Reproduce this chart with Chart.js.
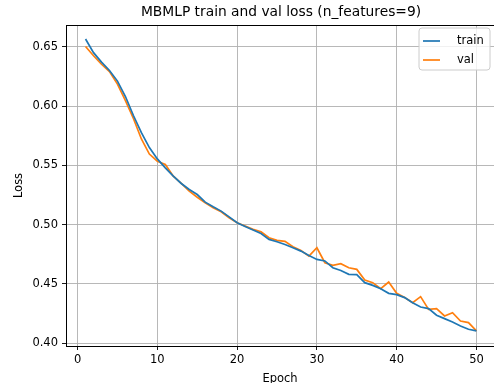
<!DOCTYPE html>
<html>
<head>
<meta charset="utf-8">
<script src="https://cdn.jsdelivr.net/npm/chart.js@4/dist/chart.umd.min.js"></script>
<style>
  html, body { margin: 0; padding: 0; background: #fff; }
  #wrap { width: 494px; height: 383px; }
</style>
</head>
<body>
<div id="wrap"><canvas id="c" width="494" height="383"></canvas></div>
<script>
const epochs = Array.from({ length: 50 }, (_, i) => i + 1);

const trainLoss = [
  0.6565, 0.6450, 0.6370, 0.6300, 0.6210, 0.6080, 0.5920, 0.5775, 0.5650, 0.5554,
  0.5479, 0.5409, 0.5347, 0.5296, 0.5254, 0.5190, 0.5150, 0.5114, 0.5066, 0.5016,
  0.4985, 0.4955, 0.4925, 0.4876, 0.4856, 0.4833, 0.4805, 0.4777, 0.4740, 0.4707,
  0.4694, 0.4637, 0.4614, 0.4581, 0.4578, 0.4511, 0.4488, 0.4460, 0.4421, 0.4410,
  0.4385, 0.4342, 0.4306, 0.4292, 0.4236, 0.4208, 0.4180, 0.4146, 0.4118, 0.4104
];

const valLoss = [
  0.6502, 0.6424, 0.6352, 0.6290, 0.6185, 0.6045, 0.5895, 0.5722, 0.5595, 0.5535,
  0.5507, 0.5409, 0.5347, 0.5282, 0.5231, 0.5184, 0.5142, 0.5108, 0.5058, 0.5016,
  0.4988, 0.4960, 0.4940, 0.4890, 0.4867, 0.4859, 0.4814, 0.4783, 0.4735, 0.4805,
  0.4679, 0.4657, 0.4671, 0.4637, 0.4623, 0.4533, 0.4511, 0.4460, 0.4516, 0.4421,
  0.4385, 0.4342, 0.4393, 0.4286, 0.4292, 0.4230, 0.4258, 0.4188, 0.4174, 0.4104
];

const xTicks = [0, 10, 20, 30, 40, 50];
const yTicks = [0.40, 0.45, 0.50, 0.55, 0.60, 0.65];

const FONT = "'DejaVu Sans', sans-serif";

// title, top spine and the boxed legend, matplotlib style
const decorations = {
  id: "decorations",
  afterDraw(chart) {
    const { ctx, chartArea, scales } = chart;
    ctx.save();
    // top spine
    ctx.strokeStyle = "#000";
    ctx.lineWidth = 1;
    ctx.beginPath();
    ctx.moveTo(chartArea.left, chartArea.top + 0.5);
    ctx.lineTo(chartArea.right, chartArea.top + 0.5);
    ctx.stroke();

    // title
    ctx.fillStyle = "#000";
    ctx.font = "13.8px " + FONT;
    ctx.textAlign = "center";
    ctx.textBaseline = "middle";
    ctx.fillText("MBMLP train and val loss (n_features=9)", scales.x.getPixelForValue(25.5), 12);

    // legend
    const bx = 419, by = 28, bw = 71, bh = 42, r = 3;
    ctx.beginPath();
    ctx.moveTo(bx + r, by);
    ctx.arcTo(bx + bw, by, bx + bw, by + bh, r);
    ctx.arcTo(bx + bw, by + bh, bx, by + bh, r);
    ctx.arcTo(bx, by + bh, bx, by, r);
    ctx.arcTo(bx, by, bx + bw, by, r);
    ctx.closePath();
    ctx.fillStyle = "rgba(255,255,255,0.8)";
    ctx.fill();
    ctx.strokeStyle = "#cccccc";
    ctx.lineWidth = 1;
    ctx.stroke();

    ctx.font = "11.5px " + FONT;
    ctx.textAlign = "left";
    chart.data.datasets.forEach((ds, i) => {
      const y = 41 + i * 19;
      ctx.strokeStyle = ds.borderColor;
      ctx.lineWidth = 1.7;
      ctx.beginPath();
      ctx.moveTo(423, y);
      ctx.lineTo(440, y);
      ctx.stroke();
      ctx.fillStyle = "#000";
      ctx.fillText(ds.label, 457, y);
    });
    ctx.restore();
  }
};

new Chart(document.getElementById("c"), {
  type: "line",
  data: {
    labels: epochs,
    datasets: [
      { label: "train", data: epochs.map((e, i) => ({ x: e, y: trainLoss[i] })), borderColor: "#1f77b4", borderWidth: 1.7, pointRadius: 0, tension: 0 },
      { label: "val", data: epochs.map((e, i) => ({ x: e, y: valLoss[i] })), borderColor: "#ff7f0e", borderWidth: 1.7, pointRadius: 0, tension: 0 }
    ]
  },
  options: {
    responsive: false,
    animation: false,
    layout: { padding: { top: 25, right: 0, left: 0, bottom: 0 } },
    plugins: { legend: { display: false }, tooltip: { enabled: false }, title: { display: false } },
    scales: {
      x: {
        type: "linear",
        min: -1.45,
        max: 52.2,
        afterBuildTicks: (s) => { s.ticks = xTicks.map(v => ({ value: v })); },
        afterFit: (s) => { s.height = 37; },
        ticks: { color: "#000", font: { family: FONT, size: 11.5 }, padding: 3, maxRotation: 0 },
        grid: { color: "#b0b0b0", lineWidth: 0.9, tickColor: "#000", tickLength: 4 },
        border: { color: "#000", width: 1 },
        title: { display: true, text: "Epoch", color: "#000", font: { family: FONT, size: 11.5, lineHeight: 1 }, padding: { top: 0, bottom: -2 } }
      },
      y: {
        min: 0.3977,
        max: 0.6683,
        afterBuildTicks: (s) => { s.ticks = yTicks.map(v => ({ value: v })); },
        afterFit: (s) => { s.width = 66; },
        ticks: { color: "#000", font: { family: FONT, size: 11.5 }, padding: 4, callback: (v) => v.toFixed(2) },
        grid: { color: "#b0b0b0", lineWidth: 0.9, tickColor: "#000", tickLength: 4 },
        border: { color: "#000", width: 1 },
        title: { display: true, text: "Loss", color: "#000", font: { family: FONT, size: 11.5 }, padding: { top: 12, bottom: 0 } }
      }
    }
  },
  plugins: [decorations]
});
</script>
</body>
</html>
